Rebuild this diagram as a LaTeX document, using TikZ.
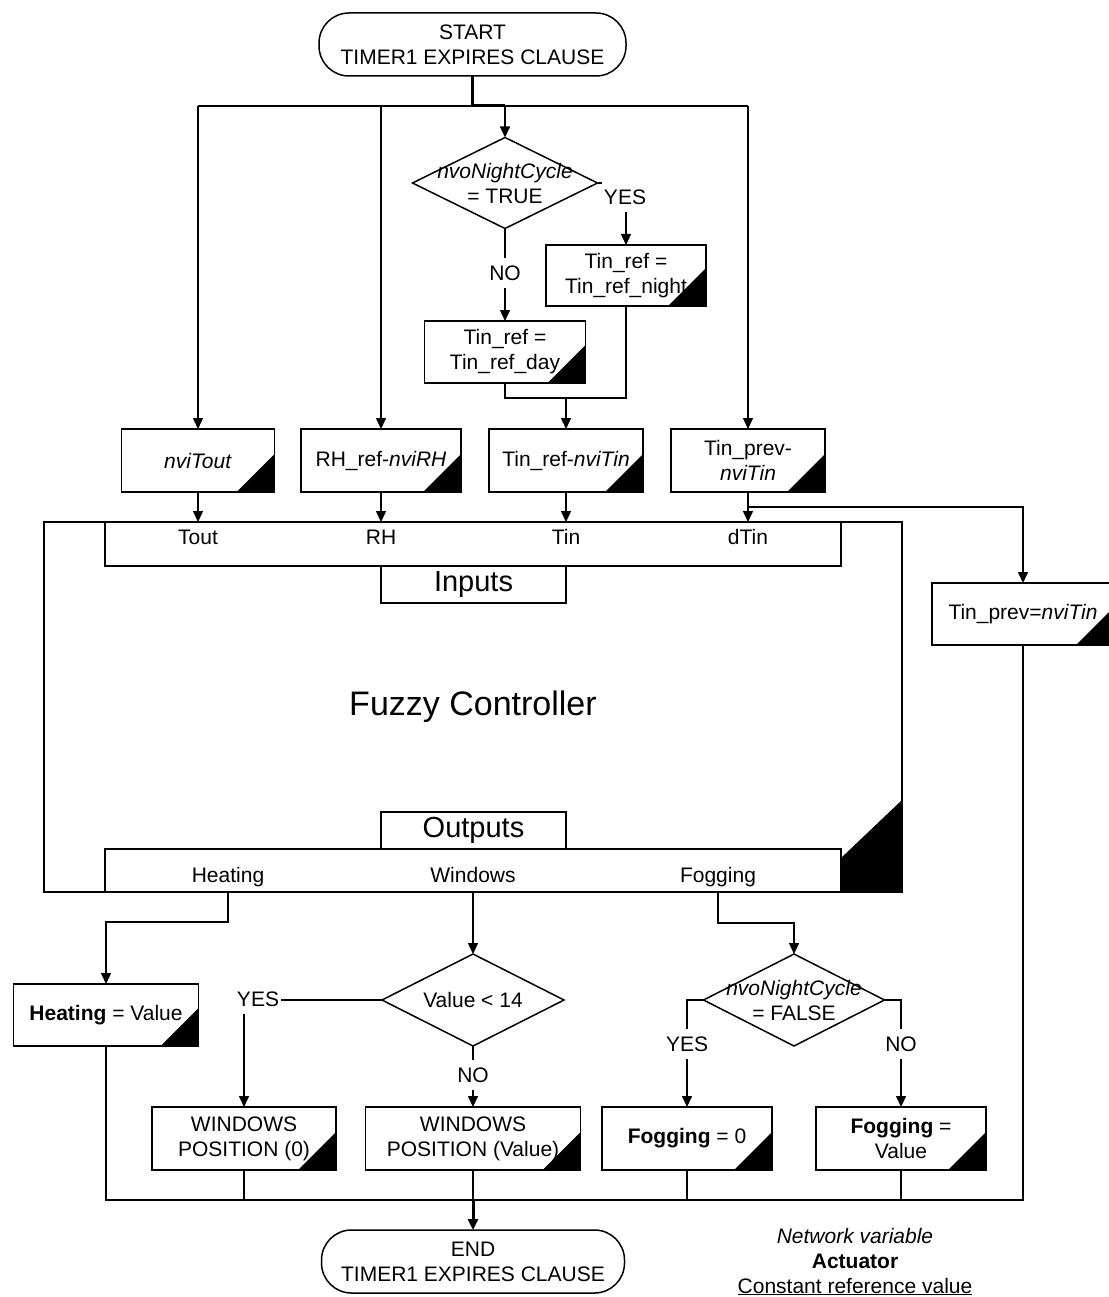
\documentclass[tikz,border=0pt]{standalone}
\usepackage{fontspec}
\setmainfont{Liberation Sans}
\usetikzlibrary{shapes.geometric,arrows.meta}

\begin{document}
\begin{tikzpicture}[x=1pt,y=-1pt,
  every node/.style={inner sep=0pt,outer sep=0pt,font=\fontsize{21pt}{25pt}\selectfont},
  conn/.style={draw,line width=1.5pt},
  arr/.style={conn,-{Triangle[width=10pt,length=11pt]}},
  box/.style={draw,line width=1.5pt,fill=white,align=center},
  act/.style={box,minimum height=63pt,
    path picture={\fill[black] (path picture bounding box.south east) -- ++(-38pt,0pt) -- ++(38pt,38pt) -- cycle;}},
  term/.style={draw,line width=1.5pt,rounded corners=30pt,align=center,minimum height=63pt},
  dec/.style={draw,diamond,line width=1.5pt},
  lbl/.style={fill=white,inner xsep=2pt,inner ysep=8pt},
  big/.style={font=\fontsize{29pt}{33pt}\selectfont}
]
\useasboundingbox (0,0) rectangle (1108,1297);

% ---- controller frame and its input/output strips
\node[draw,line width=1.5pt,minimum width=858pt,minimum height=370pt,
      font=\fontsize{34pt}{40pt}\selectfont] (fuzzy) at (473,707) {Fuzzy Controller};
\fill[black] (902,800) -- (841,858) -- (841,892) -- (902,892) -- cycle;
\node[box,minimum width=736pt,minimum height=44pt] (instrip) at (473,544) {};
\node[box,big,minimum width=185pt,minimum height=37pt] (inputs) at (473.5,584.5) {Inputs};
\node[box,big,minimum width=185pt,minimum height=37pt] (outputs) at (473.5,830.5) {Outputs};
\node[box,minimum width=736pt,minimum height=43pt] (outstrip) at (473,870.5) {};
\node[anchor=base] (inTout) at (198,544) {Tout};
\node[anchor=base] (inRH) at (381,544) {RH};
\node[anchor=base] (inTin) at (566,544) {Tin};
\node[anchor=base] (indTin) at (748,544) {dTin};
\node[anchor=base] (heatlbl) at (228,882) {Heating};
\node[anchor=base] (winlbl) at (473,882) {Windows};
\node[anchor=base] (foglbl) at (718,882) {Fogging};

% ---- start and first decision
\node[term,minimum width=307pt] (start) at (472.5,44.5) {START\\TIMER1 EXPIRES CLAUSE};
\node[dec,minimum width=185pt,minimum height=91pt] (d1) at (505,183) {};
\node[align=center] (d1txt) at (505,183) {\textit{nvoNightCycle}\\= TRUE};
\node[act,minimum width=160pt,minimum height=61pt] (night) at (626,275.5) {Tin\_ref =\\Tin\_ref\_night};
\node[act,minimum width=161pt,minimum height=62pt] (day) at (505,352) {Tin\_ref =\\Tin\_ref\_day};

% ---- input computations
\node[act,minimum width=153pt] (tout) at (198,460.5) {\textit{nviTout}};
\node[act,minimum width=160pt] (rh) at (381,460.5) {RH\_ref-\textit{nviRH}};
\node[act,minimum width=154pt] (tref) at (566,460.5) {Tin\_ref-\textit{nviTin}};
\node[act,minimum width=154pt] (tprev) at (748,460.5) {Tin\_prev-\\\textit{nviTin}};
\node[act,minimum width=182pt,minimum height=62pt] (tpn) at (1023,614) {Tin\_prev=\textit{nviTin}};

% ---- output actions
\node[act,minimum width=185pt,minimum height=62pt] (heatbox) at (106,1015) {\textbf{Heating} = Value};
\node[dec,minimum width=182pt,minimum height=92pt] (d2) at (473,1000) {};
\node (d2txt) at (473,1000) {Value < 14};
\node[act,minimum width=184pt] (win0) at (244,1138.5) {WINDOWS\\POSITION (0)};
\node[act,minimum width=215pt] (winv) at (473,1138.5) {WINDOWS\\POSITION (Value)};
\node[dec,minimum width=181pt,minimum height=92pt] (d3) at (794,1000) {};
\node[align=center] (d3txt) at (794,1000) {\textit{nvoNightCycle}\\= FALSE};
\node[act,minimum width=170pt] (fog0) at (687,1138.5) {\textbf{Fogging} = 0};
\node[act,minimum width=170pt] (fogv) at (901,1138.5) {\textbf{Fogging} =\\Value};
\node[term,minimum width=303pt] (end) at (473,1261.5) {END\\TIMER1 EXPIRES CLAUSE};

% ---- legend
\node[anchor=base] (lgnv) at (855,1243) {\textit{Network variable}};
\node[anchor=base] (lgact) at (855,1268) {\textbf{Actuator}};
\node[anchor=base] (lgcst) at (855,1293) {\underline{Constant reference value}};

% ---- fan-out from start
\coordinate (fork) at (472.5,106);
\coordinate (busA) at (198,106);
\coordinate (busB) at (381,106);
\coordinate (busC) at (505,106);
\coordinate (busD) at (748,106);
\draw[conn] (busA) -- (busD);
\draw[conn,line width=3pt] (start.south) -- (fork) -- (busC);
\draw[arr] (busA) -- (tout.north);
\draw[arr] (busB) -- (rh.north);
\draw[arr] (busC) -- (d1.north);
\draw[arr] (busD) -- (tprev.north);

% ---- night / day reference
\draw[arr] (d1.east) -| (night.north);
\draw[arr] (d1.south) -- (day.north);
\node[lbl] (yes1) at (625,197) {YES};
\node[lbl] (no1) at (505,273) {NO};
\coordinate (mL) at (505,398);
\coordinate (mR) at (626,398);
\coordinate (mM) at (566,398);
\draw[conn] (day.south) -- (mL) -- (mR) -- (night.south);
\draw[arr] (mM) -- (tref.north);

% ---- into the controller
\draw[arr] (tout.south) -- (tout.south |- instrip.north);
\draw[arr] (rh.south) -- (rh.south |- instrip.north);
\draw[arr] (tref.south) -- (tref.south |- instrip.north);
\draw[arr] (tprev.south) -- (tprev.south |- instrip.north);
\coordinate (tpbr) at (748,507);
\draw[arr] (tpbr) -| (tpn.north);

% ---- out of the controller
\coordinate (heatbend) at (228,922);
\draw[arr] (heatlbl |- outstrip.south) -- (heatbend) -| (heatbox.north);
\draw[arr] (winlbl |- outstrip.south) -- (d2.north);
\coordinate (fogbend) at (718,923);
\draw[arr] (foglbl |- outstrip.south) -- (fogbend) -| (d3.north);
\draw[arr] (d2.west) -| (win0.north);
\draw[arr] (d2.south) -- (winv.north);
\draw[arr] (d3.west) -| (fog0.north);
\draw[arr] (d3.east) -| (fogv.north);
\node[lbl] (yes2) at (258,999) {YES};
\node[lbl] (no2) at (473,1075) {NO};
\node[lbl] (yes3) at (687,1044) {YES};
\node[lbl] (no3) at (901,1044) {NO};

% ---- collect to end
\coordinate (busL) at (106,1200);
\coordinate (busR) at (1023,1200);
\draw[conn] (heatbox.south) -- (busL) -- (busR) -- (tpn.south);
\draw[conn,line width=2.5pt] (win0.south |- busL) -- (fog0.south |- busL);
\draw[conn] (win0.south) -- (win0.south |- busL);
\draw[conn] (winv.south) -- (winv.south |- busL);
\draw[conn] (fog0.south) -- (fog0.south |- busL);
\draw[conn] (fogv.south) -- (fogv.south |- busL);
\draw[arr,line width=3pt] (winv.south |- busL) -- (end.north);
\end{tikzpicture}
\end{document}
